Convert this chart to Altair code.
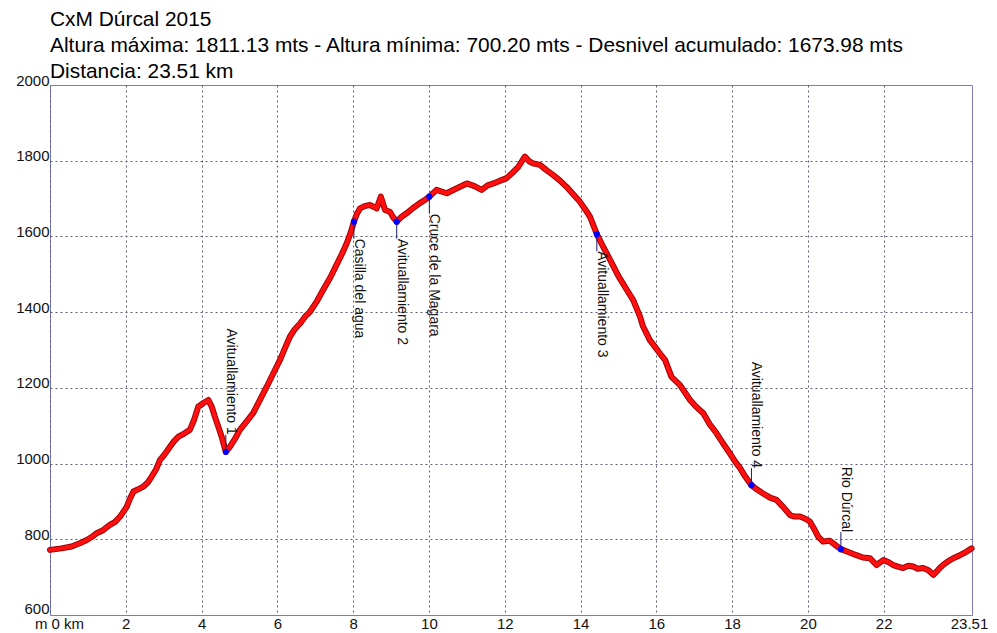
import altair as alt
import pandas as pd

# ---- data ----
dist_km = [0.00, 0.30, 0.57, 0.80, 0.97, 1.10, 1.23, 1.40, 1.58, 1.72, 1.85, 2.02, 2.10, 2.20, 2.33,
           2.46, 2.58, 2.68, 2.80, 2.90, 3.03, 3.17, 3.28, 3.39, 3.55, 3.69, 3.80, 3.91, 4.05, 4.18,
           4.27, 4.35, 4.45, 4.53, 4.64, 4.75, 4.88, 5.01, 5.18, 5.36, 5.55, 5.72, 5.90, 6.07, 6.20,
           6.33, 6.46, 6.60, 6.73, 6.86, 7.05, 7.21, 7.40, 7.56, 7.70, 7.83, 7.95, 8.02, 8.10, 8.18,
           8.30, 8.44, 8.55, 8.62, 8.73, 8.84, 8.97, 9.06, 9.15, 9.28, 9.41, 9.58, 9.76, 9.90, 10.01,
           10.20, 10.47, 10.75, 11.00, 11.20, 11.39, 11.55, 11.70, 11.90, 12.05, 12.20, 12.36, 12.53,
           12.65, 12.75, 12.93, 13.10, 13.28, 13.45, 13.63, 13.80, 13.98, 14.12, 14.25, 14.43, 14.60,
           14.78, 15.00, 15.22, 15.39, 15.57, 15.65, 15.83, 15.96, 16.10, 16.23, 16.40, 16.62, 16.89,
           17.05, 17.24, 17.40, 17.59, 17.75, 17.94, 18.08, 18.21, 18.35, 18.51, 18.65, 18.82, 19.00,
           19.17, 19.35, 19.53, 19.65, 19.79, 19.92, 20.05, 20.15, 20.27, 20.40, 20.58, 20.72, 20.87,
           21.05, 21.28, 21.45, 21.64, 21.81, 21.99, 22.12, 22.25, 22.40, 22.51, 22.65, 22.78, 22.90,
           23.04, 23.18, 23.31, 23.40, 23.48, 23.60, 23.75, 23.88, 24.01, 24.15, 24.32]
elev_m = [772, 776, 781, 790, 798, 806, 816, 824, 838, 846, 860, 885, 905, 926, 932,
          939, 950, 965, 985, 1009, 1025, 1045, 1060, 1071, 1080, 1089, 1115, 1150, 1160, 1168,
          1150, 1124, 1095, 1071, 1031, 1045, 1065, 1089, 1110, 1133, 1170, 1203, 1240, 1274, 1305,
          1335, 1355, 1370, 1388, 1401, 1430, 1459, 1492, 1525, 1553, 1582, 1615, 1639, 1660, 1674,
          1680, 1683, 1678, 1674, 1705, 1670, 1665, 1650, 1639, 1652, 1661, 1675, 1688, 1697, 1705,
          1723, 1714, 1728, 1740, 1733, 1723, 1735, 1740, 1748, 1754, 1768, 1784, 1811,
          1798, 1793, 1789, 1775, 1762, 1748, 1731, 1712, 1692, 1672, 1652, 1606, 1572,
          1538, 1495, 1459, 1432, 1388, 1362, 1326, 1309, 1290, 1274, 1229, 1208, 1168,
          1150, 1133, 1105, 1080, 1055, 1027, 1005, 988, 965, 943, 932, 921, 910,
          904, 885, 864, 860, 860, 855, 847, 830, 807, 794, 796, 785, 774,
          767, 758, 752, 750, 732, 745, 740, 732, 727, 724, 730, 728, 722,
          724, 718, 706, 715, 724, 735, 745, 752, 758, 765, 776]

wp_names = ["Avituallamiento 1", "Casilla del agua", "Avituallamiento 2", "Cruce de la Magara",
            "Avituallamiento 3", "Avituallamiento 4", "Rio Dúrcal"]
wp_km = [4.64, 8.02, 9.15, 10.01, 14.43, 18.51, 20.87]
wp_elev = [1031, 1639, 1639, 1705, 1606, 943, 774]
wp_side = ["up", "down", "down", "down", "down", "up", "up"]

title_lines = ["CxM Dúrcal 2015",
               "Altura máxima: 1811.13 mts - Altura mínima: 700.20 mts - Desnivel acumulado: 1673.98 mts",
               "Distancia: 23.51 km"]
x_ticks = [0, 2, 4, 6, 8, 10, 12, 14, 16, 18, 20, 22, 24.33]
y_ticks = [600, 800, 1000, 1200, 1400, 1600, 1800, 2000]

profile = pd.DataFrame({"km": dist_km, "elev": elev_m})
wps = pd.DataFrame({"name": wp_names, "km": wp_km, "elev": wp_elev, "side": wp_side})

FONT = "Liberation Sans, Arial, sans-serif"
GRID = "#5C5C7C"

xscale = alt.Scale(domain=[0, 24.33], nice=False, zero=False)
yscale = alt.Scale(domain=[600, 2000], nice=False, zero=False)

xaxis = alt.Axis(
    values=x_ticks, title=None, grid=True,
    gridColor={"condition": {"test": "datum.value > 23", "value": "transparent"}, "value": GRID},
    gridDash=[2, 3], gridWidth=1, domain=False, ticks=False,
    labelFont=FONT, labelFontSize=15, labelColor="#111111", labelPadding=1,
    labelBaseline="top", labelFlush=False, labelOverlap=False,
    labelExpr="datum.value == 0 ? 'm 0 km' : (datum.value > 23 ? '23.51' : datum.label)",
    labelOffset={"condition": {"test": "datum.value == 0 || datum.value > 23",
                               "expr": "datum.value == 0 ? 9 : -3"}, "value": 0},
)
yaxis = alt.Axis(
    values=y_ticks, title=None, grid=True,
    gridColor={"condition": {"test": "datum.value == 600 || datum.value == 2000", "value": "transparent"},
               "value": GRID},
    gridDash=[2, 3], gridWidth=1, domain=False, ticks=False,
    labelFont=FONT, labelFontSize=15, labelColor="#111111", labelPadding=1,
    labelBaseline="alphabetic", labelFlush=False, labelOverlap=False, format="d",
    labelOffset={"condition": {"test": "datum.value == 600", "value": -2}, "value": 0},
)

base = alt.Chart(profile)
outline = base.mark_line(color="#A00000", strokeWidth=6, strokeJoin="round", strokeCap="round").encode(
    x=alt.X("km:Q", scale=xscale, axis=xaxis),
    y=alt.Y("elev:Q", scale=yscale, axis=yaxis),
)
core = base.mark_line(color="#FF1010", strokeWidth=4, strokeJoin="round", strokeCap="round").encode(
    x="km:Q", y="elev:Q"
)

wp = alt.Chart(wps).transform_calculate(
    elev2="datum.side == 'up' ? datum.elev + 45 : datum.elev - 45"
)
rules = wp.mark_rule(color="#1A1A6A", strokeWidth=1).encode(x="km:Q", y="elev:Q", y2="elev2:Q")
dots = wp.mark_point(filled=True, color="#0000FF", size=38, opacity=1).encode(x="km:Q", y="elev:Q")
text_down = wp.transform_filter("datum.side == 'down'").mark_text(
    angle=90, align="left", baseline="alphabetic", dx=17, dy=-1, font=FONT, fontSize=14, color="#111111"
).encode(x="km:Q", y="elev:Q", text="name:N")
text_up = wp.transform_filter("datum.side == 'up'").mark_text(
    angle=90, align="right", baseline="alphabetic", dx=-17, dy=-1, font=FONT, fontSize=14, color="#111111"
).encode(x="km:Q", y="elev:Q", text="name:N")

chart = alt.layer(outline, core, rules, dots, text_down, text_up).properties(
    width=922, height=530,
    autosize=alt.AutoSizeParams(type="none"),
    padding={"left": 42, "top": 77, "right": 17, "bottom": 18},
    title=alt.TitleParams(text=title_lines, anchor="start", frame="group", font=FONT, fontSize=20.9,
                          fontWeight="normal", color="#000000", lineHeight=26, offset=1,
                          baseline="bottom", dy=31),
    background="white",
).configure_view(stroke="#7A7AC8", strokeWidth=1)

chart.save("out.html", embed_options={"renderer": "svg", "actions": False})
